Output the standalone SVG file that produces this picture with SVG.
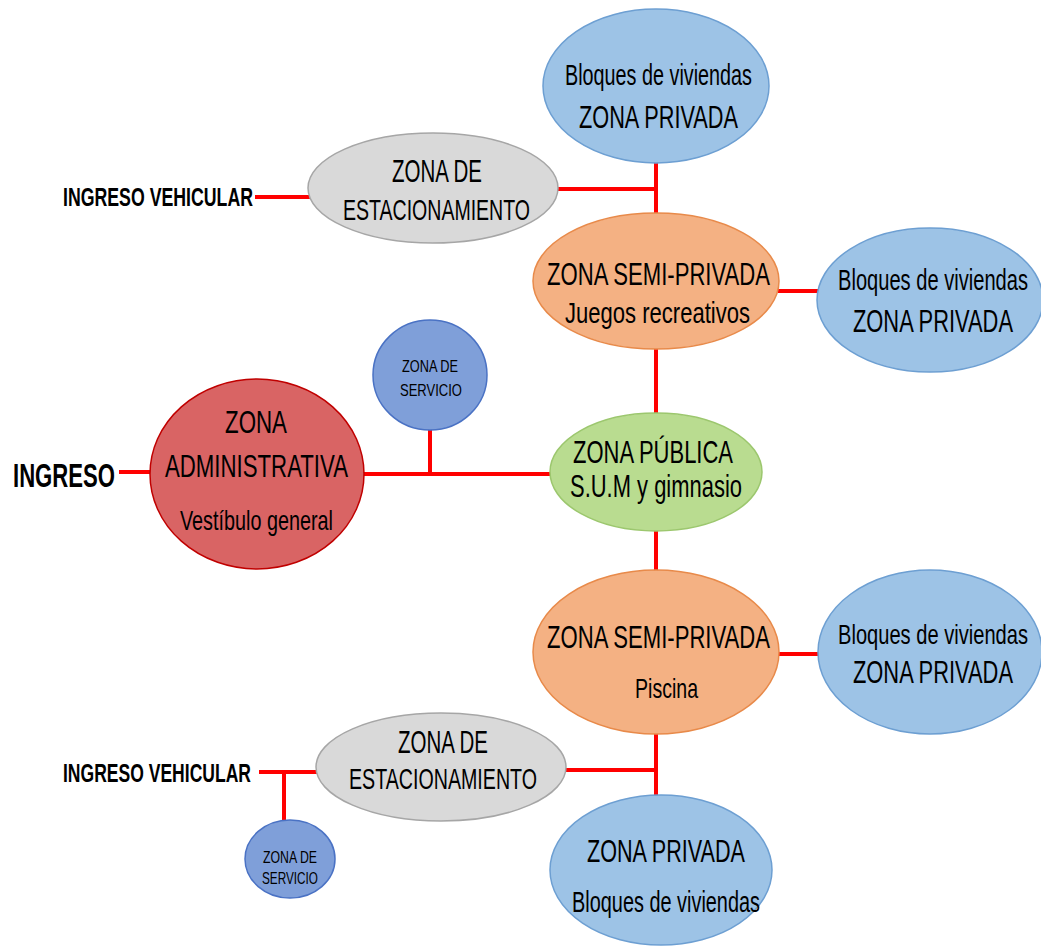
<svg xmlns="http://www.w3.org/2000/svg" width="1041" height="949" viewBox="0 0 1041 949">
  <style>
    text { font-family: "Liberation Sans Narrow", "Arial Narrow", "Liberation Sans", sans-serif; fill: #000; }
    .t32 { font-size: 32px; }
    .t30 { font-size: 30px; }
    .t28 { font-size: 28px; }
    .sm { font-size: 17px; }
    .lbl { font-weight: bold; }
    .priv { fill: #9DC3E6; stroke: #6D9FD2; stroke-width: 1.5; }
    .park { fill: #D9D9D9; stroke: #A6A6A6; stroke-width: 1.5; }
    .semi { fill: #F4B183; stroke: #E88A4A; stroke-width: 1.5; }
    .pub  { fill: #B9DC90; stroke: #9CC76E; stroke-width: 1.5; }
    .adm  { fill: #D96464; stroke: #C00000; stroke-width: 1.5; }
    .serv { fill: #7F9FD9; stroke: #4A72C4; stroke-width: 1.5; }
    .conn { stroke: #FF0000; stroke-width: 4; fill: none; }
  </style>

  <!-- connectors -->
  <g id="connectors">
    <line class="conn" x1="255" y1="197" x2="310" y2="197"/>
    <line class="conn" x1="557" y1="189" x2="656" y2="189"/>
    <line class="conn" x1="656" y1="160" x2="656" y2="214"/>
    <line class="conn" x1="778" y1="291" x2="818" y2="291"/>
    <line class="conn" x1="656" y1="348" x2="656" y2="414"/>
    <line class="conn" x1="119" y1="472" x2="151" y2="472"/>
    <line class="conn" x1="362" y1="474" x2="551" y2="474"/>
    <line class="conn" x1="430" y1="428" x2="430" y2="476"/>
    <line class="conn" x1="656" y1="530" x2="656" y2="572"/>
    <line class="conn" x1="778" y1="654" x2="819" y2="654"/>
    <line class="conn" x1="656" y1="733" x2="656" y2="798"/>
    <line class="conn" x1="564" y1="770" x2="656" y2="770"/>
    <line class="conn" x1="259" y1="772" x2="317" y2="772"/>
    <line class="conn" x1="284" y1="772" x2="284" y2="822"/>
  </g>

  <!-- entry labels -->
  <g id="ingreso-vehicular-top">
    <text class="lbl" x="63" y="206" font-size="26" textLength="190" lengthAdjust="spacingAndGlyphs">INGRESO VEHICULAR</text>
  </g>
  <g id="ingreso">
    <text class="lbl" x="13" y="487" font-size="34" textLength="102" lengthAdjust="spacingAndGlyphs">INGRESO</text>
  </g>
  <g id="ingreso-vehicular-bottom">
    <text class="lbl" x="63" y="782" font-size="26" textLength="188" lengthAdjust="spacingAndGlyphs">INGRESO VEHICULAR</text>
  </g>

  <!-- top housing block -->
  <g id="privada-norte">
    <ellipse class="priv" cx="656" cy="86" rx="113" ry="77"/>
    <text class="t30" x="565" y="85" textLength="187" lengthAdjust="spacingAndGlyphs">Bloques de viviendas</text>
    <text class="t32" x="579" y="128" textLength="159" lengthAdjust="spacingAndGlyphs">ZONA PRIVADA</text>
  </g>

  <!-- upper parking -->
  <g id="estacionamiento-norte">
    <ellipse class="park" cx="433" cy="188" rx="125" ry="55"/>
    <text class="t32" x="392" y="182" textLength="90" lengthAdjust="spacingAndGlyphs">ZONA DE</text>
    <text class="t30" x="343" y="220" textLength="187" lengthAdjust="spacingAndGlyphs">ESTACIONAMIENTO</text>
  </g>

  <!-- semi-private: playground -->
  <g id="semi-privada-juegos">
    <ellipse class="semi" cx="656" cy="281" rx="123" ry="68"/>
    <text class="t32" x="547" y="285" textLength="223" lengthAdjust="spacingAndGlyphs">ZONA SEMI-PRIVADA</text>
    <text class="t30" x="565" y="323" textLength="185" lengthAdjust="spacingAndGlyphs">Juegos recreativos</text>
  </g>

  <!-- east housing block (upper) -->
  <g id="privada-este-1">
    <ellipse class="priv" cx="930" cy="300" rx="113" ry="72"/>
    <text class="t30" x="838" y="290" textLength="190" lengthAdjust="spacingAndGlyphs">Bloques de viviendas</text>
    <text class="t32" x="853" y="332" textLength="160" lengthAdjust="spacingAndGlyphs">ZONA PRIVADA</text>
  </g>

  <!-- service zone (upper) -->
  <g id="servicio-1">
    <ellipse class="serv" cx="430" cy="375" rx="57" ry="55"/>
    <text class="sm" x="402" y="372" textLength="56" lengthAdjust="spacingAndGlyphs">ZONA DE</text>
    <text class="sm" x="400" y="396" textLength="62" lengthAdjust="spacingAndGlyphs">SERVICIO</text>
  </g>

  <!-- administration -->
  <g id="administrativa">
    <ellipse class="adm" cx="257" cy="474" rx="107" ry="95"/>
    <text class="t32" x="225" y="433" textLength="62" lengthAdjust="spacingAndGlyphs">ZONA</text>
    <text class="t32" x="165" y="477" textLength="183" lengthAdjust="spacingAndGlyphs">ADMINISTRATIVA</text>
    <text class="t28" x="180" y="530" textLength="153" lengthAdjust="spacingAndGlyphs">Vestíbulo general</text>
  </g>

  <!-- public zone -->
  <g id="publica">
    <ellipse class="pub" cx="656" cy="472" rx="106" ry="59"/>
    <text class="t32" x="573" y="463" textLength="160" lengthAdjust="spacingAndGlyphs">ZONA PÚBLICA</text>
    <text class="t32" x="570" y="497" textLength="172" lengthAdjust="spacingAndGlyphs">S.U.M y gimnasio</text>
  </g>

  <!-- semi-private: pool -->
  <g id="semi-privada-piscina">
    <ellipse class="semi" cx="656" cy="652" rx="123" ry="82"/>
    <text class="t32" x="547" y="648" textLength="223" lengthAdjust="spacingAndGlyphs">ZONA SEMI-PRIVADA</text>
    <text class="t28" x="635" y="698" textLength="63" lengthAdjust="spacingAndGlyphs">Piscina</text>
  </g>

  <!-- east housing block (lower) -->
  <g id="privada-este-2">
    <ellipse class="priv" cx="930" cy="652" rx="112" ry="82"/>
    <text class="t28" x="838" y="644" textLength="190" lengthAdjust="spacingAndGlyphs">Bloques de viviendas</text>
    <text class="t32" x="853" y="683" textLength="160" lengthAdjust="spacingAndGlyphs">ZONA PRIVADA</text>
  </g>

  <!-- lower parking -->
  <g id="estacionamiento-sur">
    <ellipse class="park" cx="441" cy="767" rx="125" ry="54"/>
    <text class="t32" x="398" y="753" textLength="90" lengthAdjust="spacingAndGlyphs">ZONA DE</text>
    <text class="t30" x="349" y="789" textLength="188" lengthAdjust="spacingAndGlyphs">ESTACIONAMIENTO</text>
  </g>

  <!-- service zone (lower) -->
  <g id="servicio-2">
    <ellipse class="serv" cx="290" cy="859" rx="45" ry="39"/>
    <text class="sm" x="263" y="863" textLength="54" lengthAdjust="spacingAndGlyphs">ZONA DE</text>
    <text class="sm" x="262" y="884" textLength="56" lengthAdjust="spacingAndGlyphs">SERVICIO</text>
  </g>

  <!-- south housing block -->
  <g id="privada-sur">
    <ellipse class="priv" cx="661" cy="870" rx="111" ry="75"/>
    <text class="t32" x="587" y="862" textLength="158" lengthAdjust="spacingAndGlyphs">ZONA PRIVADA</text>
    <text class="t30" x="572" y="912" textLength="188" lengthAdjust="spacingAndGlyphs">Bloques de viviendas</text>
  </g>
</svg>
